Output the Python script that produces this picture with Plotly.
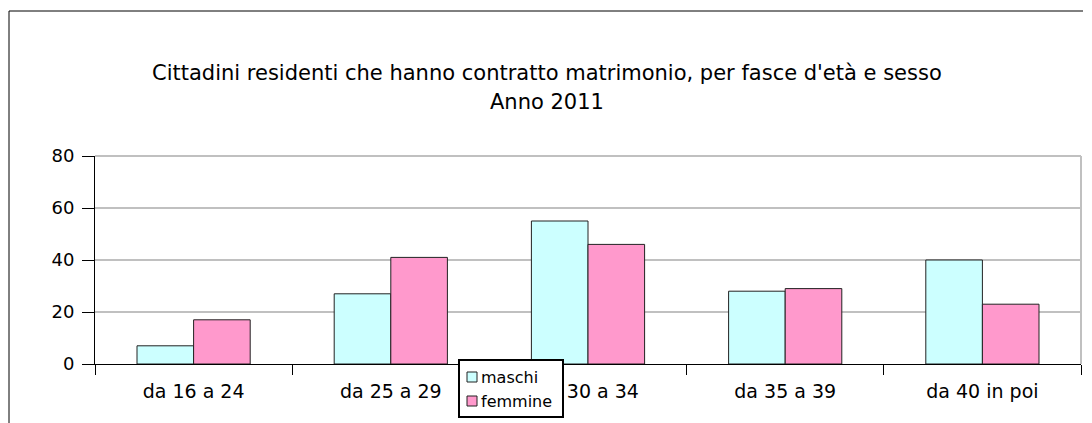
import plotly.graph_objects as go

categories = ["da 16 a 24", "da 25 a 29", "da 30 a 34", "da 35 a 39", "da 40 in poi"]
maschi = [7, 27, 55, 28, 40]
femmine = [17, 41, 46, 29, 23]
y_ticks = [0, 20, 40, 60, 80]
series_names = ["maschi", "femmine"]
series_colors = ["#CCFFFF", "#FF99CC"]

OFF = 8  # page body margin
W, H = 1092 - OFF, 423 - OFF
# plot area in page pixels
PL, PR, PT, PB = 95, 1081, 156, 364
L, R, T, B = PL - OFF, W - (PR - OFF), PT - OFF, H - (PB - OFF)
pw = W - L - R
ph = H - T - B

def px(x):  # page x -> paper
    return (x - PL) / pw

def py(y):  # page y -> paper
    return (PB - y) / ph

fig = go.Figure()
for name, vals, col in zip(series_names, [maschi, femmine], series_colors):
    fig.add_trace(go.Bar(name=name, x=categories, y=vals, showlegend=False,
                         marker=dict(color=col, line=dict(color="#222222", width=1))))

font = "Tahoma, DejaVu Sans, Verdana, sans-serif"

fig.update_layout(
    width=W, height=H,
    margin=dict(l=L, r=R, t=T, b=B, autoexpand=False),
    paper_bgcolor="white", plot_bgcolor="white",
    barmode="group", bargap=0.426, bargroupgap=0,
    font=dict(family=font, size=19, color="black"),
    showlegend=False,
)
fig.update_xaxes(showline=True, linecolor="black", linewidth=1,
                 ticks="outside", tickson="boundaries", ticklen=10, tickcolor="black",
                 ticklabelstandoff=10,
                 showgrid=False, tickfont=dict(size=19), fixedrange=True)
fig.update_yaxes(range=[0, 80], tickvals=y_ticks, showline=True, linecolor="black", linewidth=1,
                 ticks="outside", ticklen=12, tickcolor="black", ticklabelstandoff=4,
                 showgrid=True, gridcolor="#C0C0C0", gridwidth=2, zeroline=False,
                 tickfont=dict(size=18))

# title lines
fig.add_annotation(text="Cittadini residenti che hanno contratto matrimonio, per fasce d'età e sesso",
                   xref="paper", yref="paper", x=px(547), y=py(73), xanchor="center", yanchor="middle",
                   showarrow=False, font=dict(family=font, size=21, color="black"))
fig.add_annotation(text="Anno 2011",
                   xref="paper", yref="paper", x=px(547), y=py(102), xanchor="center", yanchor="middle",
                   showarrow=False, font=dict(family=font, size=21, color="black"))

# plot area top and right border (gray)
fig.add_shape(type="line", xref="paper", yref="paper", x0=1, x1=1, y0=0, y1=1,
              line=dict(color="#C0C0C0", width=2))
fig.add_shape(type="line", xref="paper", yref="paper", x0=0, x1=1, y0=1, y1=1,
              line=dict(color="#C0C0C0", width=2))
# outer chart border (top and left visible)
fig.add_shape(type="line", xref="paper", yref="paper", x0=px(9), x1=px(1083), y0=py(11), y1=py(11),
              line=dict(color="black", width=1))
fig.add_shape(type="line", xref="paper", yref="paper", x0=px(9), x1=px(9), y0=py(11), y1=py(430),
              line=dict(color="black", width=1))

# legend box
fig.add_shape(type="rect", xref="paper", yref="paper", x0=px(459), x1=px(563), y0=py(360), y1=py(417),
              line=dict(color="black", width=2), fillcolor="white", layer="above")
for i, (name, col) in enumerate(zip(series_names, series_colors)):
    yc = 377 + 24 * i
    fig.add_shape(type="rect", xref="paper", yref="paper", x0=px(467), x1=px(477),
                  y0=py(yc - 5), y1=py(yc + 5),
                  line=dict(color="#222222", width=1), fillcolor=col, layer="above")
    fig.add_annotation(text=name, xref="paper", yref="paper", x=px(479), y=py(yc),
                       xanchor="left", yanchor="middle", showarrow=False,
                       font=dict(family=font, size=16, color="black"))

fig.write_html("out.html")
